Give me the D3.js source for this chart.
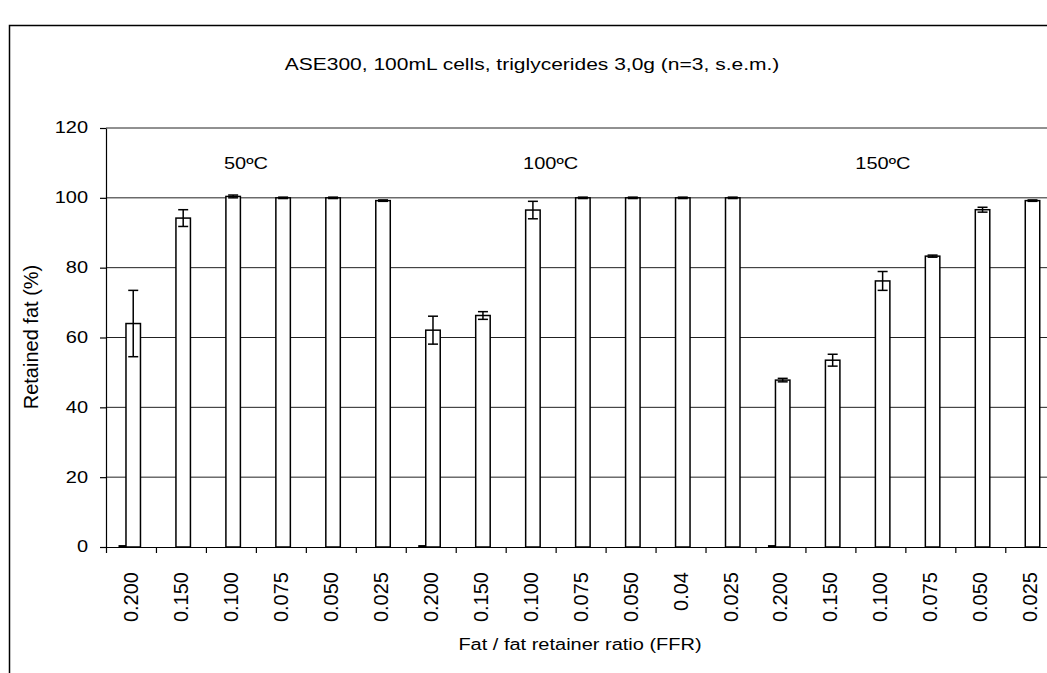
<!DOCTYPE html>
<html>
<head>
<meta charset="utf-8">
<script src="https://cdnjs.cloudflare.com/ajax/libs/d3/7.8.5/d3.min.js"></script>
<style>
  body { margin: 0; background: #fff; }
  text { font-family: "Liberation Sans", Arial, sans-serif; fill: #000; }
</style>
</head>
<body>
<script>
//============================================================
// Data
var ffr50  = ["0.200", "0.150", "0.100", "0.075", "0.050", "0.025"];
var ffr100 = ["0.200", "0.150", "0.100", "0.075", "0.050", "0.04", "0.025"];
var ffr150 = ["0.200", "0.150", "0.100", "0.075", "0.050", "0.025"];
var groups = ["50ºC", "100ºC", "150ºC"];

var retained50  = [64.0, 94.2, 100.4, 100.0, 100.0, 99.2];
var retained100 = [62.1, 66.3, 96.5, 100.0, 100.0, 100.0, 100.0];
var retained150 = [47.8, 53.5, 76.2, 83.3, 96.6, 99.2];

var sem50  = [9.5, 2.4, 0.4, 0.2, 0.2, 0.2];
var sem100 = [4.0, 1.1, 2.5, 0.2, 0.2, 0.2, 0.2];
var sem150 = [0.5, 1.7, 2.7, 0.3, 0.7, 0.2];

// first series, nearly empty (only the 0.200 cells show a trace)
var blank50  = [0.4, 0, 0, 0, 0, 0];
var blank100 = [0.4, 0, 0, 0, 0, 0, 0];
var blank150 = [0.4, 0, 0, 0, 0, 0];

var yTicks = [0, 20, 40, 60, 80, 100, 120];

//============================================================
// Build rows
var labels = ffr50.concat(ffr100, ffr150);
var values = retained50.concat(retained100, retained150);
var sems = sem50.concat(sem100, sem150);
var blanks = blank50.concat(blank100, blank150);
var rows = labels.map(function (l, i) {
  return { i: i, label: l, v: values[i], e: sems[i], b: blanks[i] };
});

//============================================================
// SVG
var W = 1047, H = 673;
var svg = d3.select("body").append("svg")
  .attr("width", W).attr("height", H);

// outer chart border (cut off right and bottom like the picture)
svg.append("rect")
  .attr("x", 9.5).attr("y", 25.5)
  .attr("width", 1200).attr("height", 800)
  .attr("fill", "none").attr("stroke", "#000").attr("stroke-width", 1.5);

var plotLeft = 106, step = 49.96, plotBottom = 547, plotTop = 128;
var n = rows.length;

var xIdx = d3.scaleLinear().domain([0, n]).range([plotLeft, plotLeft + n * step]);
var x = d3.scaleBand().domain(d3.range(n)).range([plotLeft, plotLeft + n * step]).padding(0);
var y = d3.scaleLinear().domain([0, 120]).range([plotBottom, plotTop]);

var squash = 0.78; // the picture's upright text is vertically compressed

// gridlines
svg.append("g").selectAll("line")
  .data(yTicks.filter(function (d) { return d > 0; }))
  .enter().append("line")
  .attr("x1", plotLeft).attr("x2", W)
  .attr("y1", function (d) { return y(d); })
  .attr("y2", function (d) { return y(d); })
  .attr("stroke", "#222").attr("stroke-width", 1);

// y axis
var yAxis = svg.append("g")
  .attr("transform", "translate(" + plotLeft + ",0)")
  .call(d3.axisLeft(y).tickValues(yTicks).tickSize(6).tickSizeOuter(0).tickFormat(""));
yAxis.select(".domain").attr("stroke", "#000").attr("stroke-width", 1.2);
yAxis.selectAll(".tick line").attr("stroke", "#000").attr("stroke-width", 1.2);

svg.append("g").selectAll("g")
  .data(yTicks)
  .enter().append("g")
  .attr("transform", function (d) { return "translate(88," + y(d) + ") scale(1," + squash + ")"; })
  .append("text")
  .attr("text-anchor", "end")
  .attr("dy", "0.35em")
  .style("font-size", "20px")
  .text(function (d) { return d; });

// x axis: ticks at category boundaries
var xAxis = svg.append("g")
  .attr("transform", "translate(0," + plotBottom + ")")
  .call(d3.axisBottom(xIdx).tickValues(d3.range(n + 1)).tickSize(6).tickSizeOuter(0).tickFormat(""));
xAxis.select(".domain").attr("stroke", "#000").attr("stroke-width", 1.2);
xAxis.selectAll(".tick line").attr("stroke", "#000").attr("stroke-width", 1.2);

// rotated category labels
svg.append("g").selectAll("text")
  .data(rows)
  .enter().append("text")
  .attr("transform", function (d) {
    return "translate(" + (x(d.i) + x.bandwidth() / 2) + ",572) rotate(-90)";
  })
  .attr("text-anchor", "end")
  .attr("dy", "0.35em")
  .style("font-size", "20px")
  .text(function (d) { return d.label; });

// bars: blank series sits just left of the data series
var barOff = 0.40, barW = 0.29;

svg.append("g").selectAll("rect")
  .data(rows.filter(function (d) { return d.b > 0; }))
  .enter().append("rect")
  .attr("x", function (d) { return x(d.i) + x.bandwidth() * (barOff - 0.14); })
  .attr("width", x.bandwidth() * 0.14)
  .attr("y", function (d) { return y(d.b); })
  .attr("height", function (d) { return y(0) - y(d.b); })
  .attr("fill", "#000").attr("stroke", "#000").attr("stroke-width", 1);

svg.append("g").selectAll("rect")
  .data(rows)
  .enter().append("rect")
  .attr("x", function (d) { return x(d.i) + x.bandwidth() * barOff; })
  .attr("width", x.bandwidth() * barW)
  .attr("y", function (d) { return y(d.v); })
  .attr("height", function (d) { return y(0) - y(d.v); })
  .attr("fill", "#fff").attr("stroke", "#000").attr("stroke-width", 1.5);

// error bars
var err = svg.append("g").selectAll("g")
  .data(rows)
  .enter().append("g")
  .attr("transform", function (d) {
    return "translate(" + (x(d.i) + x.bandwidth() * (barOff + barW / 2)) + ",0)";
  });
err.append("line")
  .attr("y1", function (d) { return y(d.v - d.e); })
  .attr("y2", function (d) { return y(d.v + d.e); })
  .attr("stroke", "#000").attr("stroke-width", 1.5);
err.append("line")
  .attr("x1", -5).attr("x2", 5)
  .attr("y1", function (d) { return y(d.v + d.e); })
  .attr("y2", function (d) { return y(d.v + d.e); })
  .attr("stroke", "#000").attr("stroke-width", 1.5);
err.append("line")
  .attr("x1", -5).attr("x2", 5)
  .attr("y1", function (d) { return y(d.v - d.e); })
  .attr("y2", function (d) { return y(d.v - d.e); })
  .attr("stroke", "#000").attr("stroke-width", 1.5);

// temperature labels over each block
var groupAt = [2.8, 8.9, 15.55];
svg.append("g").selectAll("g")
  .data(groups)
  .enter().append("g")
  .attr("transform", function (d, i) { return "translate(" + xIdx(groupAt[i]) + ",164) scale(1," + squash + ")"; })
  .append("text")
  .attr("text-anchor", "middle")
  .attr("dy", "0.35em")
  .style("font-size", "20px")
  .text(function (d) { return d; });

// titles
svg.append("g")
  .attr("transform", "translate(532,64) scale(1," + squash + ")")
  .append("text")
  .attr("text-anchor", "middle")
  .attr("dy", "0.35em")
  .style("font-size", "21px")
  .text("ASE300, 100mL cells, triglycerides 3,0g (n=3, s.e.m.)");

svg.append("g")
  .attr("transform", "translate(580,645) scale(1," + squash + ")")
  .append("text")
  .attr("text-anchor", "middle")
  .attr("dy", "0.35em")
  .style("font-size", "20px")
  .text("Fat / fat retainer ratio (FFR)");

svg.append("text")
  .attr("transform", "translate(31,337) rotate(-90)")
  .attr("text-anchor", "middle")
  .attr("dy", "0.35em")
  .style("font-size", "20px")
  .text("Retained fat (%)");
</script>
</body>
</html>
